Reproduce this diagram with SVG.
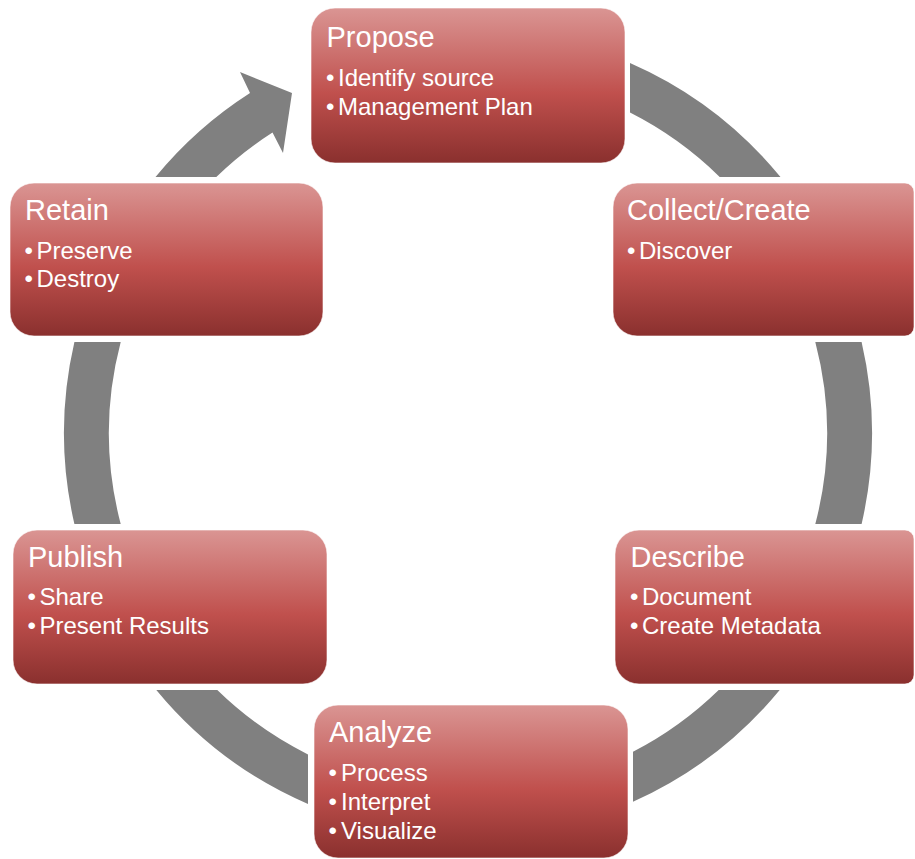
<svg xmlns="http://www.w3.org/2000/svg" width="915" height="859" viewBox="0 0 915 859">
<defs>
<linearGradient id="boxGrad" x1="0" y1="0" x2="0" y2="1">
<stop offset="0" stop-color="#DA9593"/>
<stop offset="0.55" stop-color="#C0504D"/>
<stop offset="1" stop-color="#8A302E"/>
</linearGradient>
<style>
.box{fill:url(#boxGrad);stroke:#ffffff;stroke-opacity:0.6;stroke-width:1}
.ring{fill:#808080}
.title{font-family:"Liberation Sans",Arial,sans-serif;font-size:29px;fill:#ffffff}
.item{font-family:"Liberation Sans",Arial,sans-serif;font-size:24px;fill:#ffffff}
</style>
</defs>
<rect width="915" height="859" fill="#ffffff"/>
<g id="connectors">
<path class="ring" d="M630,62.9 A404,404 0 0 1 780.5,177 L719.7,177 A359,359 0 0 0 630,112.6 Z"/>
<path class="ring" d="M861.6,342 A404,404 0 0 1 861.6,524 L815.3,524 A359,359 0 0 0 815.3,342 Z"/>
<path class="ring" d="M779.7,690 A404,404 0 0 1 633,801.8 L633,751.8 A359,359 0 0 0 718.7,690 Z"/>
<path class="ring" d="M308,804 A404,404 0 0 1 156.3,690 L217.3,690 A359,359 0 0 0 308,754.4 Z"/>
<path class="ring" d="M74.4,524 A404,404 0 0 1 74.4,342 L120.7,342 A359,359 0 0 0 120.7,524 Z"/>
<path class="ring" d="M155.5,177 A404,404 0 0 1 250,93 L240,72 L292,93 L283,153 L272.5,132.5 A359,359 0 0 0 216.3,177 Z"/>
</g>
<g id="propose">
<rect class="box" x="311" y="8" width="314" height="155" rx="24"/>
<text class="title" x="326.5" y="47">Propose</text>
<text class="item" x="326" y="86">•<tspan x="338">Identify source</tspan></text>
<text class="item" x="326" y="115">•<tspan x="338">Management Plan</tspan></text>
</g>
<g id="collect">
<path class="box" d="M637,183 H905 A9,9 0 0 1 914,192 V327 A9,9 0 0 1 905,336 H637 A24,24 0 0 1 613,312 V207 A24,24 0 0 1 637,183 Z"/>
<text class="title" x="627" y="220">Collect/Create</text>
<text class="item" x="627" y="258.5">•<tspan x="639">Discover</tspan></text>
</g>
<g id="describe">
<path class="box" d="M639,530 H905 A9,9 0 0 1 914,539 V675 A9,9 0 0 1 905,684 H639 A24,24 0 0 1 615,660 V554 A24,24 0 0 1 639,530 Z"/>
<text class="title" x="630.5" y="566.5">Describe</text>
<text class="item" x="630" y="605">•<tspan x="642">Document</tspan></text>
<text class="item" x="630" y="633.5">•<tspan x="642">Create Metadata</tspan></text>
</g>
<g id="analyze">
<rect class="box" x="314" y="705" width="314" height="153" rx="24"/>
<text class="title" x="329" y="742">Analyze</text>
<text class="item" x="328.5" y="780.5">•<tspan x="341">Process</tspan></text>
<text class="item" x="328.5" y="809.5">•<tspan x="341">Interpret</tspan></text>
<text class="item" x="328.5" y="838.5">•<tspan x="341">Visualize</tspan></text>
</g>
<g id="publish">
<rect class="box" x="13" y="530" width="314" height="154" rx="24"/>
<text class="title" x="28" y="566.5">Publish</text>
<text class="item" x="27.5" y="605">•<tspan x="39.5">Share</tspan></text>
<text class="item" x="27.5" y="633.5">•<tspan x="39.5">Present Results</tspan></text>
</g>
<g id="retain">
<rect class="box" x="10" y="183" width="313" height="153" rx="24"/>
<text class="title" x="25" y="220">Retain</text>
<text class="item" x="24.5" y="258.5">•<tspan x="36.5">Preserve</tspan></text>
<text class="item" x="24.5" y="287">•<tspan x="36.5">Destroy</tspan></text>
</g>
</svg>
